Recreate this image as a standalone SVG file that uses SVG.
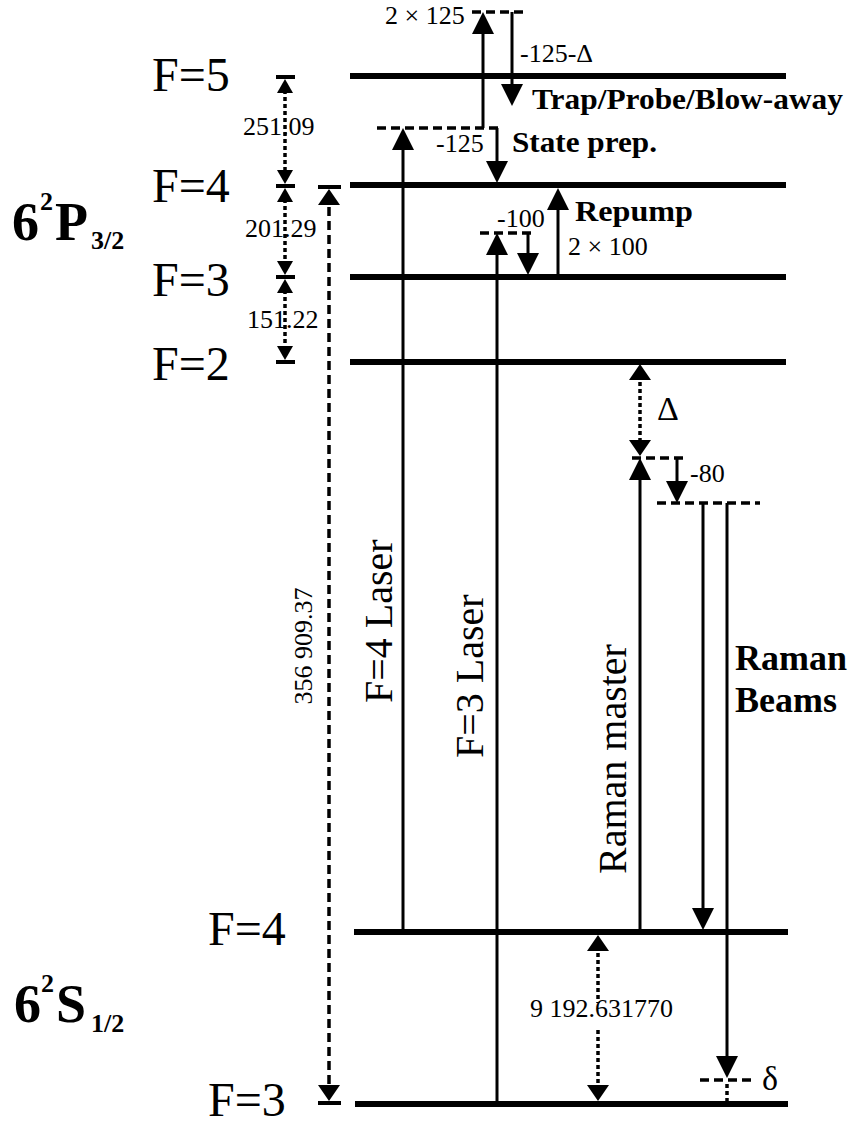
<svg xmlns="http://www.w3.org/2000/svg" width="856" height="1128" viewBox="0 0 856 1128">
<style>
.lvl{stroke:#000;stroke-width:6;fill:none}
.arr{stroke:#000;stroke-width:3;fill:none}
.dsh{stroke:#000;stroke-width:3.5;fill:none;stroke-dasharray:9 5}
.dot{stroke:#000;stroke-width:3.5;fill:none;stroke-dasharray:4 3}
.bar{stroke:#000;stroke-width:4;fill:none}
.t{font-family:"Liberation Serif","Times New Roman",serif;fill:#000}
.n{font-size:26px}
.f{font-size:48px}
.b{font-weight:bold}
.r{font-size:40px}
</style>
<defs>
<marker id="ah" viewBox="0 0 22 22" markerWidth="22" markerHeight="22" refX="16" refY="11" orient="auto-start-reverse" markerUnits="userSpaceOnUse"><path d="M0,0 L22,11 L0,22 z" fill="#000"/></marker>
<marker id="am" viewBox="0 0 16 22" markerWidth="16" markerHeight="22" refX="12" refY="11" orient="auto-start-reverse" markerUnits="userSpaceOnUse"><path d="M0,0 L16,11 L0,22 z" fill="#000"/></marker>
<marker id="as" viewBox="0 0 14 16" markerWidth="14" markerHeight="16" refX="10" refY="8" orient="auto-start-reverse" markerUnits="userSpaceOnUse"><path d="M0,0 L14,8 L0,16 z" fill="#000"/></marker>
</defs>
<rect width="856" height="1128" fill="#fff"/>

<g id="term-P">
<text class="t b" y="240"><tspan x="12" font-size="54">6</tspan><tspan x="40" y="210" font-size="26">2</tspan><tspan x="55" y="240" font-size="54">P</tspan><tspan x="91" y="249" font-size="26">3/2</tspan></text>
</g>
<g id="term-S">
<text class="t b" y="1022"><tspan x="14" font-size="54">6</tspan><tspan x="41" y="992" font-size="26">2</tspan><tspan x="56" y="1022" font-size="54">S</tspan><tspan x="91" y="1032" font-size="26">1/2</tspan></text>
</g>

<g id="P-F5"><line class="lvl" x1="350" y1="76" x2="786" y2="76"/><text class="t f" x="152" y="91">F=5</text></g>
<g id="P-F4"><line class="lvl" x1="350" y1="185" x2="786" y2="185"/><text class="t f" x="152" y="202">F=4</text></g>
<g id="P-F3"><line class="lvl" x1="350" y1="277" x2="786" y2="277"/><text class="t f" x="152" y="296">F=3</text></g>
<g id="P-F2"><line class="lvl" x1="350" y1="362" x2="786" y2="362"/><text class="t f" x="152" y="380">F=2</text></g>
<g id="S-F4"><line class="lvl" x1="354" y1="932" x2="788" y2="932"/><text class="t f" x="208" y="945">F=4</text></g>
<g id="S-F3"><line class="lvl" x1="355" y1="1104" x2="788" y2="1104"/><text class="t f" x="208" y="1116">F=3</text></g>

<g id="virtual-levels">
<line class="dsh" x1="472" y1="12" x2="524" y2="12"/>
<line class="dsh" x1="377" y1="128" x2="502" y2="128"/>
<line class="dsh" x1="480" y1="233" x2="532" y2="233"/>
<line class="dsh" x1="632" y1="458" x2="686" y2="458"/>
<line class="dsh" x1="657" y1="503" x2="760" y2="503"/>
<line class="dsh" x1="700" y1="1080" x2="754" y2="1080"/>
</g>

<g id="connectors">
<line class="arr" x1="403" y1="932" x2="403" y2="134" marker-end="url(#ah)"/>
<line class="arr" x1="483" y1="128" x2="483" y2="18" marker-end="url(#ah)"/>
<line class="arr" x1="512" y1="12" x2="512" y2="100" marker-end="url(#ah)"/>
<line class="arr" x1="497" y1="128" x2="497" y2="177" marker-end="url(#ah)"/>
<line class="arr" x1="497" y1="1104" x2="497" y2="239" marker-end="url(#ah)"/>
<line class="arr" x1="528" y1="233" x2="528" y2="269" marker-end="url(#ah)"/>
<line class="arr" x1="558" y1="277" x2="558" y2="194" marker-end="url(#ah)"/>
<line class="arr" x1="640" y1="932" x2="640" y2="464" marker-end="url(#ah)"/>
<line class="arr" x1="677" y1="458" x2="677" y2="497" marker-end="url(#ah)"/>
<line class="arr" x1="703" y1="503" x2="703" y2="924" marker-end="url(#ah)"/>
<line class="arr" x1="727" y1="503" x2="727" y2="1072" marker-end="url(#ah)"/>
<line class="dot" x1="727" y1="1084" x2="727" y2="1104"/>
<line class="dot" x1="640" y1="368" x2="640" y2="452" marker-start="url(#am)" marker-end="url(#am)"/>
<line class="dsh" x1="329" y1="193" x2="329" y2="1097" marker-start="url(#am)" marker-end="url(#am)"/>
<line class="bar" x1="318" y1="187" x2="341" y2="187"/>
<line class="bar" x1="318" y1="1103" x2="341" y2="1103"/>
<line class="dot" x1="598" y1="939" x2="598" y2="1003" marker-start="url(#am)"/>
<line class="dot" x1="598" y1="1030" x2="598" y2="1097" marker-end="url(#am)"/>
<line class="bar" x1="276" y1="77" x2="295" y2="77"/>
<line class="bar" x1="276" y1="186" x2="295" y2="186"/>
<line class="bar" x1="276" y1="277" x2="295" y2="277"/>
<line class="bar" x1="276" y1="362" x2="295" y2="362"/>
<line class="dot" x1="285" y1="83" x2="285" y2="180" marker-start="url(#as)" marker-end="url(#as)"/>
<line class="dot" x1="285" y1="192" x2="285" y2="271" marker-start="url(#as)" marker-end="url(#as)"/>
<line class="dot" x1="285" y1="283" x2="285" y2="356" marker-start="url(#as)" marker-end="url(#as)"/>
</g>

<g id="labels">
<text class="t n" x="385" y="24">2 × 125</text>
<text class="t n" x="520" y="62">-125-Δ</text>
<text class="t b" x="532" y="109" font-size="30" textLength="311" lengthAdjust="spacingAndGlyphs">Trap/Probe/Blow-away</text>
<text class="t n" x="436" y="152">-125</text>
<text class="t b" x="512" y="152" font-size="30" textLength="145" lengthAdjust="spacingAndGlyphs">State prep.</text>
<text class="t b" x="575" y="221" font-size="30" textLength="118" lengthAdjust="spacingAndGlyphs">Repump</text>
<text class="t n" x="497" y="227">-100</text>
<text class="t n" x="568" y="255">2 × 100</text>
<text class="t" x="657" y="420" font-size="34">Δ</text>
<text class="t n" x="690" y="482">-80</text>
<text class="t" x="762" y="1090" font-size="34">δ</text>
<text class="t n" x="530" y="1017">9 192.631770</text>
<text class="t n" x="243" y="135">251.09</text>
<text class="t n" x="245" y="237">201.29</text>
<text class="t n" x="247" y="328">151.22</text>
<text class="t n" x="312" y="646" text-anchor="middle" transform="rotate(-90 312 646)">356 909.37</text>
<text class="t r" x="392" y="703" transform="rotate(-90 392 703)">F=4 Laser</text>
<text class="t r" x="483" y="758" transform="rotate(-90 483 758)">F=3 Laser</text>
<text class="t r" x="626" y="874" transform="rotate(-90 626 874)">Raman master</text>
<text class="t b" x="735" y="670" font-size="36">Raman</text>
<text class="t b" x="735" y="712" font-size="36">Beams</text>
</g>
</svg>
